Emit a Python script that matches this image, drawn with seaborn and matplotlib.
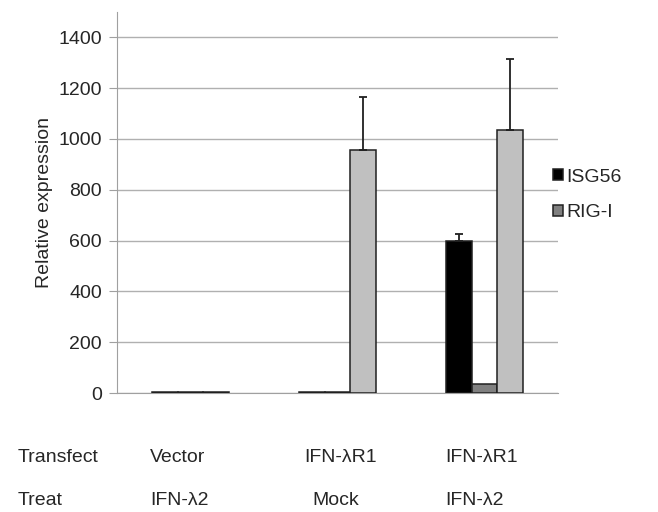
import pandas as pd
import seaborn as sns
import matplotlib.pyplot as plt

# Données
groups = ['g1', 'g2', 'g3']
series = ['ISG56', 'RIG-I', 'other']
isg56 = [4, 4, 600]
rigi = [4, 3, 38]
other = [3, 955, 1035]
err_isg56 = [0, 0, 28]
err_rigi = [0, 0, 0]
err_other = [0, 210, 280]
transfect = ['Vector', 'IFN-λR1', 'IFN-λR1']
treat = ['IFN-λ2', 'Mock', 'IFN-λ2']
colors = ['#000000', '#808080', '#c0c0c0']

df = pd.DataFrame({
    'group': groups * 3,
    'series': [s for s in series for _ in groups],
    'value': isg56 + rigi + other,
})
errs = [err_isg56, err_rigi, err_other]

sns.set_style('white')
plt.rcParams['font.family'] = ['Liberation Sans', 'DejaVu Sans']

fig = plt.figure(figsize=(6.58, 5.12), dpi=100)
ax = fig.add_axes([0.178, 0.232, 0.67, 0.745])

sns.barplot(data=df, x='group', y='value', hue='series', palette=colors,
            width=0.52, edgecolor='#202020', linewidth=1.1, errorbar=None, ax=ax,
            zorder=3)

# Barres d'erreur (uniquement vers le haut)
for cont, e in zip(ax.containers, errs):
    for patch, err in zip(cont.patches, e):
        if err > 0:
            xc = patch.get_x() + patch.get_width() / 2
            ax.errorbar(xc, patch.get_height(), yerr=[[0], [err]], fmt='none',
                        ecolor='#202020', elinewidth=1.3, capsize=3, capthick=1.3,
                        zorder=4)

ax.set_ylim(0, 1500)
ax.set_xlim(-0.5, 2.5)
ax.set_yticks(range(0, 1401, 200))
ax.yaxis.grid(True, color='#b0b0b0', linewidth=1)
ax.set_axisbelow(True)
ax.tick_params(axis='y', length=6, color='#a0a0a0', labelsize=14, direction='out', left=True,
               pad=5)
ax.tick_params(axis='x', bottom=False, labelbottom=False)
ax.set_xlabel('')
ax.set_ylabel('Relative expression', fontsize=14)
ax.yaxis.set_label_coords(-0.145, 0.5)
for s in ['top', 'right']:
    ax.spines[s].set_visible(False)
for s in ['left', 'bottom']:
    ax.spines[s].set_color('#a0a0a0')

handles, labels = ax.get_legend_handles_labels()
ax.legend(handles[:2], labels[:2], loc='center left', bbox_to_anchor=(0.95, 0.52),
          frameon=False, fontsize=14, handlelength=0.5, handleheight=0.5,
          handletextpad=0.15, labelspacing=0.95)

# Lignes de texte sous l'axe
fig.text(0.027, 0.107, 'Transfect', fontsize=14, va='center')
fig.text(0.027, 0.023, 'Treat', fontsize=14, va='center')
xs = [0.228, 0.463, 0.676]
for x, t1, t2 in zip(xs, transfect, treat):
    fig.text(x, 0.107, t1, fontsize=14, va='center')
    fig.text(x + (0.012 if t2 == 'Mock' else 0), 0.023, t2, fontsize=14, va='center')

fig.savefig('out.png', dpi=100)
